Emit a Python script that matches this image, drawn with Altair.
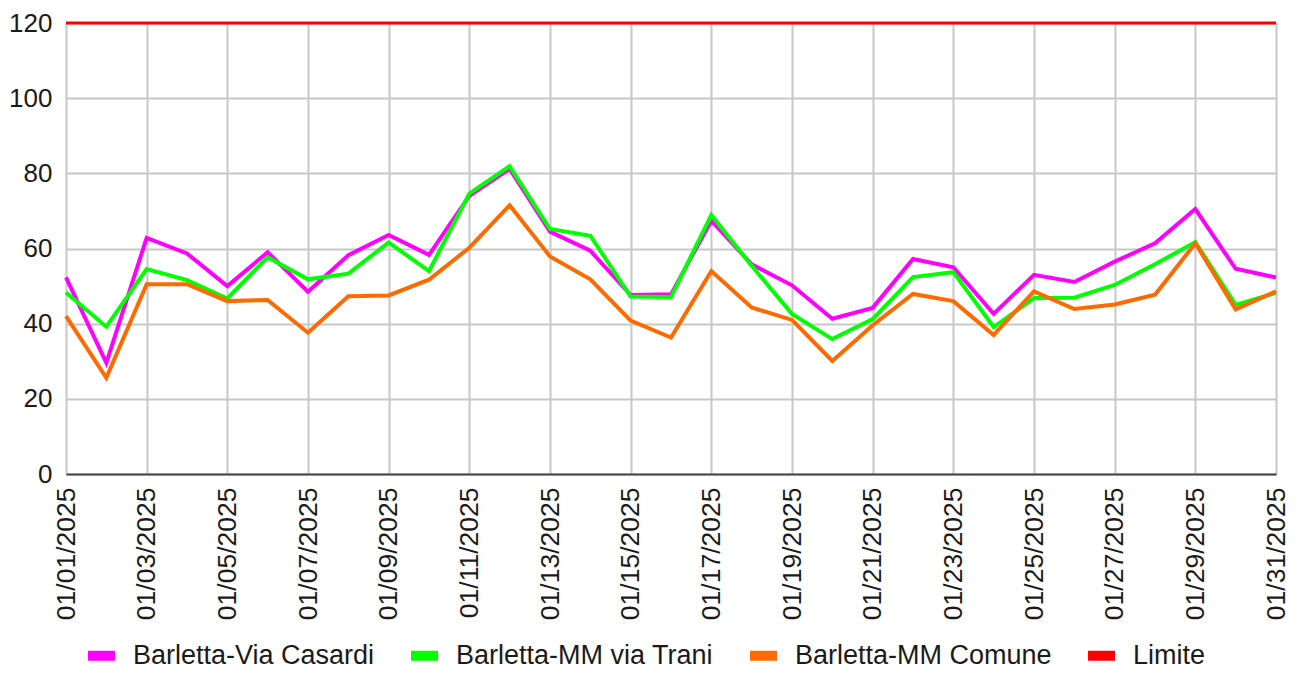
import altair as alt
import pandas as pd

dates = [f"01/{d:02d}/2025" for d in range(1, 32)]

casardi = [52.3, 29.6, 62.8, 58.7, 50.0, 59.0, 48.5, 58.2, 63.6, 58.3,
           74.0, 81.2, 64.5, 59.4, 47.6, 47.8, 67.4, 55.8, 50.2, 41.3,
           44.2, 57.2, 55.0, 42.6, 53.0, 51.1, 56.5, 61.4, 70.5, 54.6, 52.3]
trani = [48.3, 39.2, 54.5, 51.6, 46.7, 57.7, 51.8, 53.3, 61.6, 54.0,
         74.6, 81.9, 65.2, 63.4, 47.2, 47.1, 68.9, 55.4, 42.6, 35.9,
         41.2, 52.4, 53.7, 39.1, 46.8, 46.9, 50.3, 55.8, 61.7, 45.0, 48.2]
comune = [42.0, 25.6, 50.5, 50.5, 46.0, 46.3, 37.6, 47.3, 47.5, 51.7,
          60.2, 71.5, 57.9, 51.8, 40.8, 36.3, 54.0, 44.3, 41.0, 30.1,
          39.6, 47.9, 46.0, 37.0, 48.6, 43.9, 45.1, 47.7, 61.4, 43.8, 48.6]
limite = [120] * 31

series_names = ["Barletta-Via Casardi", "Barletta-MM via Trani", "Barletta-MM Comune", "Limite"]
series_colors = ["#ff00ff", "#00ff00", "#ff6a00", "#ff0000"]
y_ticks = [0, 20, 40, 60, 80, 100, 120]
x_label_values = dates[::2]

rows = []
for name, vals in zip(series_names, [casardi, trani, comune, limite]):
    for d, v in zip(dates, vals):
        rows.append({"Data": d, "Valore": v, "Serie": name})
df = pd.DataFrame(rows)

FONT = "Liberation Sans"
TXT = "#1a1a1a"

color = alt.Color(
    "Serie:N",
    scale=alt.Scale(domain=series_names, range=series_colors),
    legend=alt.Legend(
        title=None, orient="none", direction="horizontal",
        legendX=17, legendY=614,
        symbolType="stroke", symbolStrokeWidth=10, symbolSize=729,
        labelFontSize=27, labelFont=FONT, labelColor=TXT, labelLimit=500,
        labelOffset=13, columnPadding=16, padding=0,
    ),
)

x = alt.X(
    "Data:O", sort=dates, title=None,
    scale=alt.Scale(type="point", padding=0),
    axis=alt.Axis(values=x_label_values, labelAngle=-90, labelFontSize=26.5,
                  labelFont=FONT, labelColor=TXT, ticks=False, grid=True,
                  gridColor="#c8c8c8", gridWidth=2, domainColor="#444",
                  domainWidth=2, labelPadding=13),
)
y = alt.Y(
    "Valore:Q", title=None,
    scale=alt.Scale(domain=[0, 120], nice=False),
    axis=alt.Axis(values=y_ticks, labelFontSize=26, labelFont=FONT, labelColor=TXT,
                  ticks=False, domain=False, grid=True, gridColor="#c8c8c8",
                  gridWidth=2, labelPadding=14),
)

layers = []
for name in series_names:
    sw = 3 if name == "Limite" else 4
    layers.append(
        alt.Chart(df).transform_filter(alt.datum.Serie == name)
        .mark_line(strokeWidth=sw, strokeJoin="miter")
        .encode(x=x, y=y, color=color)
    )

chart = alt.layer(*layers).properties(
    width=1210, height=451,
    autosize=alt.AutoSizeParams(type="none"),
    padding={"left": 58, "top": 15, "right": 13, "bottom": 195},
).configure_view(stroke=None).configure(background="white")

chart.save("out.html", embed_options={"renderer": "svg", "actions": False})
